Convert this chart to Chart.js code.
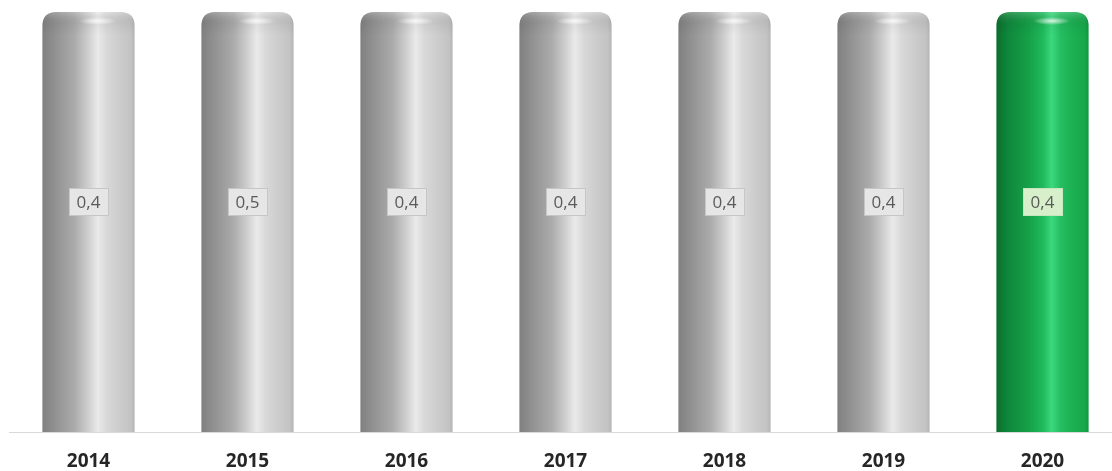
<!DOCTYPE html>
<html>
<head>
<meta charset="utf-8">
<script src="https://cdn.jsdelivr.net/npm/chart.js@4"></script>
<style>
  html, body { margin: 0; padding: 0; background: #ffffff; overflow: hidden; }
  #wrap { width: 1122px; height: 471px; }
</style>
</head>
<body>
<div id="wrap"><canvas id="barChart" width="1122" height="471"></canvas></div>
<script>
const years = ["2014", "2015", "2016", "2017", "2018", "2019", "2020"];
const values = [0.4, 0.5, 0.4, 0.4, 0.4, 0.4, 0.4];
const axisMax = 0.4;

// the current year is shown in green, earlier years in grey
const currentYear = "2020";

const greyStops = [
  [0, "#808080"], [0.12, "#8f8f8f"], [0.35, "#ababab"], [0.5, "#cfcfcf"],
  [0.6, "#eaeaea"], [0.7, "#d8d8d8"], [0.85, "#cbcbcb"], [0.96, "#c3c3c3"], [1, "#b5b5b5"]
];
const greenStops = [
  [0, "#0b6e2c"], [0.12, "#0f873b"], [0.35, "#16a048"], [0.5, "#1fb85a"],
  [0.6, "#3bd87c"], [0.7, "#25bd60"], [0.85, "#1aaf50"], [0.96, "#17a84b"], [1, "#139343"]
];

function cylinderPath(ctx, x0, x1, top, bottom, r) {
  ctx.beginPath();
  ctx.moveTo(x0, bottom);
  ctx.lineTo(x0, top + r);
  ctx.quadraticCurveTo(x0, top, x0 + r, top);
  ctx.lineTo(x1 - r, top);
  ctx.quadraticCurveTo(x1, top, x1, top + r);
  ctx.lineTo(x1, bottom);
  ctx.closePath();
}

function drawCylinder(ctx, x0, x1, top, bottom, stops) {
  const w = x1 - x0;
  const r = Math.min(14, w / 2);
  ctx.save();
  const g = ctx.createLinearGradient(x0, 0, x1, 0);
  stops.forEach(s => g.addColorStop(s[0], s[1]));
  cylinderPath(ctx, x0, x1, top, bottom, r);
  ctx.fillStyle = g;
  ctx.fill();
  ctx.clip();

  // shading on the rounded cap
  const cap = ctx.createLinearGradient(0, top, 0, top + r + 10);
  cap.addColorStop(0, "rgba(255,255,255,0.18)");
  cap.addColorStop(0.55, "rgba(0,0,0,0.04)");
  cap.addColorStop(1, "rgba(0,0,0,0)");
  ctx.fillStyle = cap;
  ctx.fillRect(x0, top, w, r + 10);

  // glossy spot under the cap
  const hx = x0 + w * 0.6, hy = top + 9;
  ctx.translate(hx, hy);
  ctx.scale(1, 0.22);
  const spot = ctx.createRadialGradient(0, 0, 0, 0, 0, w * 0.2);
  spot.addColorStop(0, "rgba(255,255,255,0.8)");
  spot.addColorStop(1, "rgba(255,255,255,0)");
  ctx.fillStyle = spot;
  ctx.beginPath();
  ctx.arc(0, 0, w * 0.2, 0, Math.PI * 2);
  ctx.fill();
  ctx.restore();
}

const cylinderPlugin = {
  id: "cylinders",
  beforeDatasetDraw(chart, args) {
    const { ctx, chartArea } = chart;
    args.meta.data.forEach((bar, i) => {
      const half = bar.width / 2;
      const top = Math.max(bar.y, chartArea.top);
      const stops = years[i] === currentYear ? greenStops : greyStops;
      drawCylinder(ctx, bar.x - half, bar.x + half, top, bar.base, stops);
    });
    return false;
  },
  afterDatasetsDraw(chart) {
    const { ctx, chartArea } = chart;
    const meta = chart.getDatasetMeta(0);
    ctx.save();
    ctx.font = "17px 'Open Sans'";
    ctx.textAlign = "center";
    ctx.textBaseline = "middle";
    meta.data.forEach((bar, i) => {
      const text = values[i].toFixed(1).replace(".", ",");
      const top = Math.max(bar.y, chartArea.top);
      const cy = (top + bar.base) / 2 - 20;
      const tw = ctx.measureText(text).width + 16;
      const th = 28;
      const green = years[i] === currentYear;
      ctx.fillStyle = green ? "#d7f0cb" : "#e6e6e6";
      ctx.fillRect(Math.round(bar.x - tw / 2), Math.round(cy - th / 2), Math.round(tw), th);
      ctx.strokeStyle = green ? "#c8e6bb" : "#c6c6c6";
      ctx.lineWidth = 1;
      ctx.strokeRect(Math.round(bar.x - tw / 2) + 0.5, Math.round(cy - th / 2) + 0.5, Math.round(tw) - 1, th - 1);
      ctx.fillStyle = "#5a5a5a";
      ctx.fillText(text, bar.x, cy + 1);
    });
    ctx.restore();
  }
};

const ctx = document.getElementById("barChart").getContext("2d");
const chart = new Chart(ctx, {
  type: "bar",
  data: {
    labels: years,
    datasets: [
      {
        data: values,
        backgroundColor: "#b0b0b0",
        categoryPercentage: 1,
        barPercentage: 0.58,
      },
    ],
  },
  options: {
    responsive: false,
    animation: false,
    layout: { padding: { top: 12, left: 9, right: 0, bottom: 0 } },
    plugins: {
      legend: { display: false },
      tooltip: { enabled: false },
    },
    scales: {
      x: {
        grid: { display: false, drawTicks: false },
        border: { display: true, color: "#d9d9d9", width: 1 },
        ticks: {
          padding: 20,
          color: "#262626",
          font: { family: "'Open Sans'", size: 19, weight: "bold", lineHeight: 1 },
        },
        afterFit(scale) {
          scale.height = 39;
        },
      },
      y: {
        display: false,
        min: 0,
        max: axisMax,
      },
    },
  },
  plugins: [cylinderPlugin],
});
</script>
</body>
</html>
